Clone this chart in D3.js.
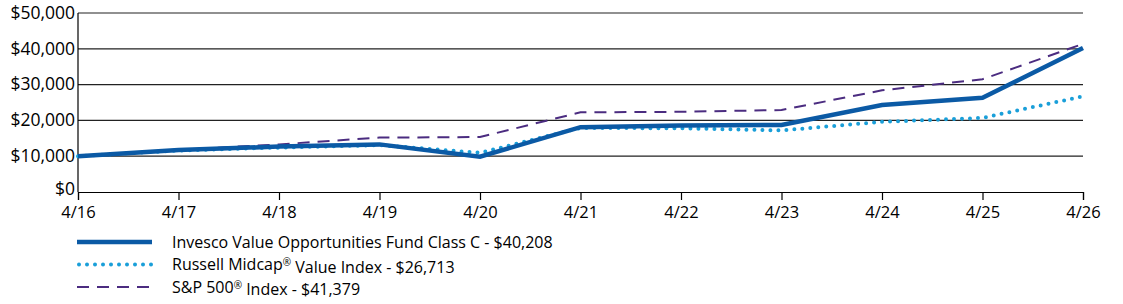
<!DOCTYPE html>
<html>
<head>
<meta charset="utf-8">
<script src="https://cdn.jsdelivr.net/npm/d3@7"></script>
<style>
  body { margin: 0; background: #fff; }
  text { font-family: "Open Sans", sans-serif; fill: #000; }
</style>
</head>
<body>
<div id="container"></div>
<script>
// data
var dates = ["4/16","4/17","4/18","4/19","4/20","4/21","4/22","4/23","4/24","4/25","4/26"];
var fund    = [10000, 11700, 12700, 13300, 9850, 18100, 18600, 18700, 24300, 26300, 40208];
var russell = [10000, 11600, 12400, 13100, 10950, 17900, 17800, 17200, 19600, 20700, 26713];
var sp500   = [10000, 11800, 13300, 15200, 15350, 22250, 22400, 22900, 28400, 31500, 41379];
var yTicks  = [0, 10000, 20000, 30000, 40000, 50000];
var legendNames = [
  "Invesco Value Opportunities Fund Class C - $40,208",
  "Russell Midcap\u00AE Value Index - $26,713",
  "S&P 500\u00AE Index - $41,379"
];

var margin = {top: 13, left: 78, right: 40, bottom: 112},
    W = 1123, H = 304,
    width = W - margin.left - margin.right,
    height = H - margin.top - margin.bottom;

var svg = d3.select("#container").append("svg")
    .attr("width", W).attr("height", H);
var g = svg.append("g").attr("transform", "translate(" + margin.left + "," + margin.top + ")");

var x = d3.scalePoint().domain(dates).range([0, width]);
var y = d3.scaleLinear().domain([0, 50000]).range([height, 0]);

// grid
g.append("g").selectAll("line")
  .data(yTicks.slice(1))
  .enter().append("line")
    .attr("x1", 0).attr("x2", width)
    .attr("y1", function(d) { return y(d); })
    .attr("y2", function(d) { return y(d); })
    .attr("stroke", "#222").attr("stroke-width", 1.2);

// y axis
var fmt = d3.format("$,");
g.append("g")
  .call(d3.axisLeft(y).tickValues(yTicks).tickFormat(fmt).tickSize(0).tickPadding(3))
  .call(function(a) {
    a.select(".domain").remove();
    a.selectAll("text").style("font-size", "17.5px").attr("dy", "0.3em");
    a.selectAll(".tick").filter(function(d) { return d === 0; })
      .select("text").attr("dy", "0.12em");
  });
g.append("line").attr("x1", 0).attr("x2", 0).attr("y1", 0).attr("y2", height)
  .attr("stroke", "#000").attr("stroke-width", 1.2);

// x axis
g.append("g")
  .attr("transform", "translate(0," + height + ")")
  .call(d3.axisBottom(x).tickSize(8).tickPadding(6))
  .call(function(a) {
    a.select(".domain").attr("stroke", "#000").attr("stroke-width", 1.2);
    a.selectAll(".tick line").attr("stroke", "#000").attr("stroke-width", 1.2);
    a.selectAll("text").style("font-size", "16.5px");
  });

var series = [
  {vals: russell, color: "#1a9fd9", width: 4, dash: "0,8", cap: "round"},
  {vals: sp500,   color: "#4b2c80", width: 2, dash: "12,8", cap: "butt"},
  {vals: fund,    color: "#0b5aa5", width: 4.5, dash: null, cap: "butt"}
];

var line = d3.line()
  .x(function(d, i) { return x(dates[i]); })
  .y(function(d) { return y(d); });

series.forEach(function(s) {
  g.append("path")
    .datum(s.vals)
    .attr("d", line)
    .attr("fill", "none")
    .attr("stroke", s.color)
    .attr("stroke-width", s.width)
    .attr("stroke-linecap", s.cap)
    .attr("stroke-dasharray", s.dash);
});

// legend
var legendStyle = [series[2], series[0], series[1]];
var leg = svg.append("g").attr("transform", "translate(77,242)");
legendNames.forEach(function(name, i) {
  var s = legendStyle[i];
  var row = leg.append("g").attr("transform", "translate(0," + (i * 22.5) + ")");
  row.append("line")
    .attr("x1", s.cap === "round" ? 2 : 0).attr("x2", 75)
    .attr("stroke", s.color).attr("stroke-width", s.width)
    .attr("stroke-linecap", s.cap).attr("stroke-dasharray", s.dash);
  var t = row.append("text").attr("x", 95).attr("dy", "0.35em").style("font-size", "16px");
  var parts = name.split("\u00AE");
  t.append("tspan").text(parts[0]);
  if (parts.length > 1) {
    t.append("tspan").text("\u00AE").attr("dy", "-0.4em").style("font-size", "10px");
    t.append("tspan").text(parts[1]).attr("dy", "0.4em");
  }
});
</script>
</body>
</html>
